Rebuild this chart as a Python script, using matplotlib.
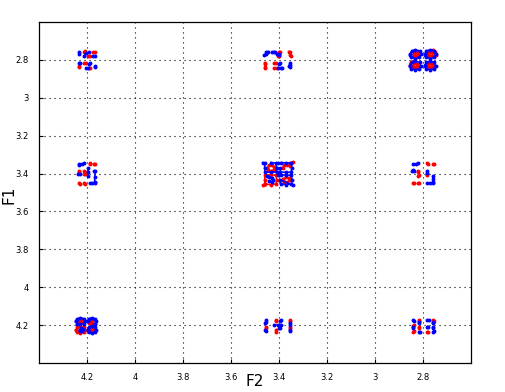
import numpy as np
import matplotlib
matplotlib.use("Agg")
import matplotlib.pyplot as plt

# cluster centres (F2, F1)
centers_f2 = [4.2, 3.4, 2.8, 4.2, 3.4, 2.8, 4.2, 3.4, 2.8]
centers_f1 = [2.8, 2.8, 2.8, 3.4, 3.4, 3.4, 4.2, 4.2, 4.2]

xticks = [4.2, 4.0, 3.8, 3.6, 3.4, 3.2, 3.0, 2.8]
yticks = [2.8, 3.0, 3.2, 3.4, 3.6, 3.8, 4.0, 4.2]

# tokens: short trajectories as (dF2, dF1) offsets from the cluster centre
a_blue = [[(0.031, -0.040), (0.033, -0.030)],
          [(0.010, -0.018), (0.005, -0.035), (-0.010, -0.040)],
          [(-0.033, -0.021), (-0.028, -0.022)],
          [(0.033, 0.019), (0.028, 0.019)],
          [(-0.012, 0.019), (-0.010, 0.024)],
          [(0.003, 0.045), (-0.005, 0.043)],
          [(-0.033, 0.040), (-0.033, 0.034)]]
a_red = [[(0.008, -0.045), (0.012, -0.040)],
         [(-0.033, -0.040), (-0.028, -0.040)],
         [(-0.012, -0.021), (-0.006, -0.022)],
         [(0.010, 0.019), (0.005, 0.019)],
         [(0.031, 0.040), (0.033, 0.035)],
         [(-0.012, 0.043), (-0.008, 0.043)]]

b_blue = [[(0.062, -0.026), (0.055, -0.030), (0.055, -0.042), (0.045, -0.044)],
          [(0.028, -0.042), (0.019, -0.044), (0.015, -0.040)],
          [(0.007, -0.030), (0.000, -0.033), (0.000, -0.025)],
          [(-0.004, 0.019), (0.000, 0.022)],
          [(0.005, 0.045), (-0.008, 0.044), (-0.012, 0.045)],
          [(-0.046, 0.015), (-0.044, 0.025), (-0.040, 0.035), (-0.046, 0.040)]]
b_red = [[(-0.004, -0.044), (0.000, -0.040)],
         [(-0.002, -0.021), (0.004, -0.022)],
         [(-0.040, -0.044), (-0.046, -0.040)],
         [(-0.050, -0.021), (-0.046, -0.025)],
         [(0.060, 0.015), (0.058, 0.020)],
         [(0.058, 0.042), (0.058, 0.038)],
         [(0.019, 0.019), (0.012, 0.019)],
         [(0.019, 0.044), (0.010, 0.044)]]

c_blue = [[(0.054, -0.030), (0.048, -0.047), (0.032, -0.054), (0.015, -0.047), (0.010, -0.030),
           (0.016, -0.013), (0.032, -0.007), (0.049, -0.013), (0.053, -0.027)],
          [(-0.008, -0.031), (-0.014, -0.048), (-0.030, -0.054), (-0.046, -0.047), (-0.052, -0.030),
           (-0.046, -0.013), (-0.030, -0.007), (-0.013, -0.014), (-0.009, -0.028)],
          [(0.054, 0.031), (0.048, 0.014), (0.032, 0.007), (0.015, 0.013), (0.010, 0.030),
           (0.016, 0.047), (0.032, 0.053), (0.049, 0.046), (0.053, 0.033)],
          [(-0.008, 0.029), (-0.014, 0.013), (-0.030, 0.007), (-0.046, 0.014), (-0.052, 0.031),
           (-0.046, 0.047), (-0.030, 0.053), (-0.013, 0.046), (-0.009, 0.032)]]
c_red = [[(0.040, -0.030), (0.035, -0.041), (0.024, -0.040), (0.020, -0.028), (0.027, -0.019),
          (0.037, -0.021), (0.040, -0.029)],
         [(-0.021, -0.031), (-0.026, -0.042), (-0.037, -0.040), (-0.041, -0.029), (-0.034, -0.019),
          (-0.024, -0.021), (-0.021, -0.030)],
         [(0.042, 0.030), (0.037, 0.019), (0.026, 0.020), (0.022, 0.032), (0.029, 0.041),
          (0.039, 0.040), (0.042, 0.031)],
         [(-0.020, 0.029), (-0.025, 0.018), (-0.036, 0.020), (-0.040, 0.031), (-0.033, 0.041),
          (-0.023, 0.039), (-0.020, 0.030)],
         [(0.056, 0.026), (0.052, 0.012), (0.040, 0.005)],
         [(-0.054, -0.024), (-0.050, -0.044), (-0.040, -0.053)]]

d_blue = [[(0.033, -0.045), (0.033, -0.050), (0.020, -0.052), (0.010, -0.053)],
          [(0.035, 0.005), (0.030, 0.003)],
          [(-0.007, -0.030), (-0.007, -0.010), (-0.007, 0.014)],
          [(-0.030, -0.012), (-0.036, -0.012), (-0.033, 0.020), (-0.033, 0.049)],
          [(-0.012, 0.049), (-0.020, 0.049), (-0.033, 0.047)]]
d_red = [[(-0.012, -0.050), (-0.015, -0.053)],
         [(-0.033, -0.048), (-0.030, -0.052)],
         [(0.033, -0.012), (0.033, -0.008)],
         [(0.010, -0.012), (0.008, -0.008)],
         [(0.012, 0.005), (0.008, 0.005)],
         [(0.033, 0.049), (0.030, 0.053)],
         [(0.010, 0.049), (0.008, 0.053)]]

e_blue = [[(0.068, -0.058), (0.058, -0.056), (0.060, -0.030), (0.058, -0.008), (0.034, -0.006),
           (0.010, -0.008), (0.010, -0.030), (0.012, -0.055), (0.034, -0.058)],
          [(0.004, -0.056), (-0.010, -0.058), (-0.030, -0.057), (-0.052, -0.055), (-0.054, -0.030),
           (-0.050, -0.008), (-0.028, -0.006), (-0.006, -0.008), (-0.004, -0.030)],
          [(0.048, 0.014), (0.040, 0.020), (0.030, 0.022), (0.024, 0.034), (0.030, 0.044), (0.042, 0.042)],
          [(0.004, 0.008), (-0.008, 0.007), (-0.030, 0.008), (-0.052, 0.010), (-0.054, 0.032),
           (-0.052, 0.056), (-0.030, 0.058), (-0.008, 0.056), (-0.004, 0.032), (-0.060, 0.062)]]
e_red = [[(0.048, -0.030), (0.043, -0.044), (0.030, -0.046), (0.020, -0.036), (0.022, -0.020),
          (0.034, -0.014), (0.046, -0.020), (0.048, -0.030)],
         [(-0.016, -0.030), (-0.020, -0.044), (-0.032, -0.046), (-0.044, -0.040), (-0.048, -0.058),
          (-0.060, -0.062)],
         [(0.066, 0.062), (0.058, 0.054), (0.060, 0.032), (0.058, 0.010), (0.034, 0.006),
          (0.012, 0.010), (0.010, 0.034), (0.012, 0.056), (0.034, 0.058), (0.056, 0.056)],
         [(-0.018, 0.032), (-0.022, 0.044), (-0.034, 0.046), (-0.044, 0.036), (-0.040, 0.022),
          (-0.028, 0.018), (-0.018, 0.030)]]

f_blue = [[(0.042, -0.048), (0.030, -0.052), (0.020, -0.053)],
          [(0.044, -0.018), (0.040, -0.015), (0.045, -0.012)],
          [(-0.018, -0.012), (-0.018, -0.005)],
          [(-0.041, 0.011), (-0.041, 0.030), (-0.041, 0.049)],
          [(-0.018, 0.049), (-0.030, 0.049), (-0.041, 0.047)]]
f_red = [[(-0.018, -0.053), (-0.022, -0.052)],
         [(-0.041, -0.048), (-0.045, -0.050)],
         [(0.020, -0.012), (0.022, -0.010)],
         [(0.020, 0.011), (0.018, 0.008)],
         [(-0.018, 0.008), (-0.016, 0.005)],
         [(0.042, 0.049), (0.038, 0.050)],
         [(0.020, 0.049), (0.018, 0.052)]]

g_blue = [[(0.044, -0.021), (0.040, -0.034), (0.026, -0.039), (0.010, -0.034), (0.007, -0.021),
           (0.012, -0.008), (0.026, -0.004), (0.041, -0.008), (0.044, -0.019)],
          [(-0.004, -0.021), (-0.008, -0.034), (-0.021, -0.039), (-0.035, -0.033), (-0.039, -0.021),
           (-0.034, -0.008)],
          [(0.030, 0.024), (0.024, 0.016), (0.016, 0.022), (0.020, 0.032), (0.030, 0.030)],
          [(-0.004, 0.024), (-0.008, 0.010), (-0.021, 0.006), (-0.035, 0.011), (-0.039, 0.024),
           (-0.034, 0.038), (-0.021, 0.042), (-0.008, 0.037), (-0.004, 0.026)]]
g_red = [[(0.032, -0.021), (0.028, -0.029), (0.020, -0.027), (0.018, -0.018), (0.026, -0.014),
          (0.032, -0.019)],
         [(-0.034, -0.008), (-0.021, -0.004), (-0.008, -0.009), (-0.012, -0.018), (-0.022, -0.022),
          (-0.028, -0.030)],
         [(0.044, 0.024), (0.040, 0.010), (0.026, 0.006), (0.010, 0.011), (0.007, 0.024),
          (0.012, 0.038), (0.026, 0.042), (0.041, 0.037), (0.044, 0.026)],
         [(-0.014, 0.024), (-0.018, 0.016), (-0.027, 0.018), (-0.028, 0.028), (-0.020, 0.032)]]

h_blue = [[(0.055, -0.026), (0.055, -0.015), (0.057, -0.009)],
          [(0.057, 0.028), (0.055, 0.032)],
          [(-0.007, -0.026), (-0.005, -0.020)],
          [(0.020, -0.002), (0.005, -0.002), (-0.010, -0.002)],
          [(-0.044, -0.009), (-0.046, -0.003)],
          [(-0.046, 0.032), (-0.044, 0.026)],
          [(0.000, 0.014), (-0.005, 0.016)]]
h_red = [[(0.055, 0.010), (0.055, 0.016)],
         [(0.014, -0.026), (0.014, -0.020)],
         [(0.014, 0.028), (0.014, 0.034)],
         [(-0.044, -0.026), (-0.044, -0.020)],
         [(-0.044, 0.012), (-0.044, 0.016)]]

i_blue = [[(0.042, -0.026), (0.038, -0.022)],
          [(0.018, -0.015), (0.016, -0.010)],
          [(-0.018, -0.026), (-0.024, -0.026)],
          [(-0.042, -0.016), (-0.040, -0.012)],
          [(0.042, 0.014), (0.044, 0.010)],
          [(-0.018, 0.008), (-0.020, 0.011)],
          [(-0.042, 0.010), (-0.040, 0.014)],
          [(0.018, 0.035), (0.015, 0.038)],
          [(-0.042, 0.035), (-0.045, 0.033)]]
i_red = [[(0.018, -0.028), (0.016, -0.024)],
         [(-0.042, -0.026), (-0.046, -0.024)],
         [(0.042, 0.005), (0.040, 0.002)],
         [(0.018, 0.014), (0.016, 0.011)],
         [(0.042, 0.035), (0.040, 0.032)],
         [(-0.018, 0.035), (-0.020, 0.037)]]

blue_tokens = [a_blue, b_blue, c_blue, d_blue, e_blue, f_blue, g_blue, h_blue, i_blue]
red_tokens = [a_red, b_red, c_red, d_red, e_red, f_red, g_red, h_red, i_red]

fig = plt.figure(figsize=(5.05, 3.92), dpi=100)
ax = fig.add_axes([0.0766, 0.074, 0.8564, 0.870])

for k in range(len(centers_f2)):
    cx, cy = centers_f2[k], centers_f1[k]
    for toks, col in ((red_tokens[k], "#ff0000"), (blue_tokens[k], "#0000ff")):
        for tok in toks:
            t = np.array(tok)
            ax.plot(cx + t[:, 0], cy + t[:, 1], ".-", color=col, lw=1.1, ms=3.6)

ax.set_xlim(4.4, 2.6)
ax.set_ylim(4.4, 2.6)
ax.set_xticks(xticks)
ax.set_yticks(yticks)
ax.set_xticklabels(["4.2", "4", "3.8", "3.6", "3.4", "3.2", "3", "2.8"])
ax.set_yticklabels(["2.8", "3", "3.2", "3.4", "3.6", "3.8", "4", "4.2"])
ax.tick_params(direction="in", length=3, labelsize=6, pad=7, width=0.8)
ax.grid(True, color="black", linestyle=(0, (1, 3.5)), linewidth=0.8)
for s in ax.spines.values():
    s.set_linewidth(0.9)
fig.text(255 / 505, 1 - 381 / 392, "F2", fontsize=11, ha="center", va="center")
fig.text(9 / 505, 1 - 195 / 392, "F1", fontsize=11, ha="center", va="center", rotation=90)

fig.savefig("out.png", dpi=100)
